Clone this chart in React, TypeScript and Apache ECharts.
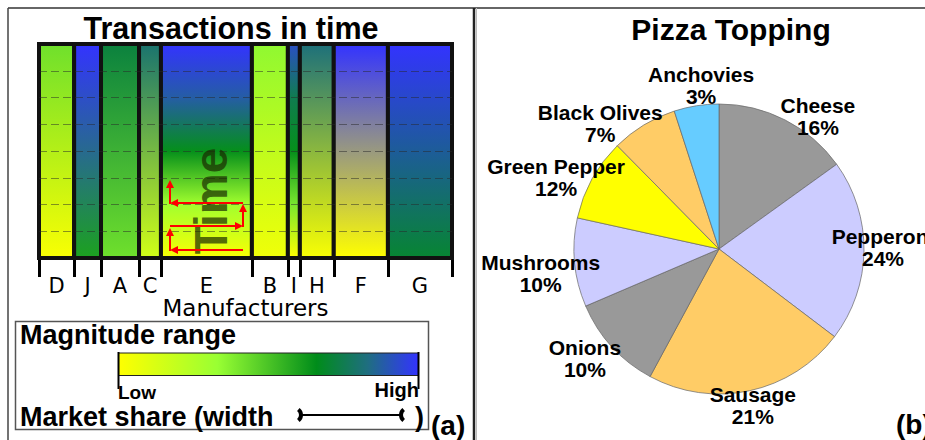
import React, { useEffect, useRef } from "react";
import * as echarts from "echarts";

// ---------- Left panel data: manufacturers (Marimekko of magnitude over time) ----------
const manufacturers = ["D", "J", "A", "C", "E", "B", "I", "H", "F", "G"];
// market share (bar width, %)
const marketShare = [8.5, 6.5, 9.2, 5.3, 22.0, 8.7, 2.9, 8.2, 13.1, 15.5];
// magnitude readings over time (0 = low, 1 = high), earliest first (bottom -> top)
const magnitudeD = [0.02, 0.42];
const magnitudeJ = [0.6, 1.0];
const magnitudeA = [0.42, 0.72];
const magnitudeC = [0.15, 0.8];
const magnitudeE = [0.02, 0.3, 0.65, 0.88, 1.0];
const magnitudeB = [0.05, 0.35];
const magnitudeI = [0.0, 0.4, 0.65, 0.75, 0.92];
const magnitudeH = [0.02, 0.82];
const magnitudeF = [0.0, 1.0];
const magnitudeG = [0.7, 1.0];
const magnitudes = [
  magnitudeD, magnitudeJ, magnitudeA, magnitudeC, magnitudeE,
  magnitudeB, magnitudeI, magnitudeH, magnitudeF, magnitudeG,
];
const timeSteps = 8;

// colour scale Low -> High
const scaleStops = [0, 0.33, 0.66, 0.83, 1];
const scaleColors = ["#ffff00", "#99ff33", "#008c1a", "#1f6e80", "#3333ff"];

// ---------- Right panel data: pizza toppings ----------
const toppings = ["Cheese", "Pepperoni", "Sausage", "Onions", "Mushrooms", "Green Pepper", "Black Olives", "Anchovies"];
const toppingShare = [15.1, 20.3, 22.6, 10.7, 9.9, 9.2, 7.4, 5.0];
const toppingLabelPct = [16, 24, 21, 10, 10, 12, 7, 3];
const toppingColors = ["#999999", "#ccccff", "#ffcc66", "#999999", "#ccccff", "#ffff00", "#ffcc66", "#66ccff"];

function hexToRgb(h: string) {
  const n = parseInt(h.slice(1), 16);
  return [(n >> 16) & 255, (n >> 8) & 255, n & 255];
}
function magColor(m: number) {
  let i = 0;
  while (i < scaleStops.length - 2 && m > scaleStops[i + 1]) i++;
  const t = Math.max(0, Math.min(1, (m - scaleStops[i]) / (scaleStops[i + 1] - scaleStops[i])));
  const a = hexToRgb(scaleColors[i]);
  const b = hexToRgb(scaleColors[i + 1]);
  const c = a.map((v, k) => Math.round(v + (b[k] - v) * t));
  return `rgb(${c[0]},${c[1]},${c[2]})`;
}

const SANS = "Liberation Sans, Arial, sans-serif";
const DEJAVU = "DejaVu Sans, Verdana, sans-serif";

export default function App() {
  const ref = useRef<HTMLDivElement>(null);
  useEffect(() => {
    if (!ref.current) return;
    const chart = echarts.init(ref.current, undefined, { renderer: "svg" });

    // cumulative boundaries for the Marimekko
    const bounds: number[] = [0];
    marketShare.forEach((s) => bounds.push(bounds[bounds.length - 1] + s));
    const total = bounds[bounds.length - 1];
    const mids = marketShare.map((s, i) => bounds[i] + s / 2);
    const barData = marketShare.map((s, i) => [bounds[i], bounds[i + 1], i]);

    // pie label placement
    const pieCx = 719, pieCy = 249, pieR = 145;
    const shareSum = toppingShare.reduce((a, b) => a + b, 0);
    const midAngles: number[] = [];
    let acc = 0;
    toppingShare.forEach((s) => { midAngles.push(((acc + s / 2) / shareSum) * 360); acc += s; });
    const labelAngleNudge = [9.7, -1.2, 0, 3.2, -2.5, -5.2, -12.1, 2.7];
    const labelDistance = [165, 164, 160, 173, 180, 178, 173, 164];

    const red = "#ff0000";
    const arrow = (x1: number, y1: number, x2: number, y2: number) => {
      const ang = Math.atan2(y2 - y1, x2 - x1);
      const L = 8, W = 4;
      const bx = x2 - L * Math.cos(ang), by = y2 - L * Math.sin(ang);
      const px = -Math.sin(ang) * W, py = Math.cos(ang) * W;
      return [
        { type: "line", z: 101, shape: { x1, y1, x2: bx, y2: by }, style: { stroke: red, lineWidth: 2 } },
        { type: "polygon", z: 101, shape: { points: [[x2, y2], [bx + px, by + py], [bx - px, by - py]] }, style: { fill: red } },
      ];
    };

    const legendGrad = new echarts.graphic.LinearGradient(0, 0, 1, 0,
      scaleStops.map((s, i) => ({ offset: s, color: scaleColors[i] })));

    const graphic: any[] = [
      // frames
      { type: "line", z: 100, shape: { x1: 8, y1: 8, x2: 925, y2: 8 }, style: { stroke: "#333", lineWidth: 1.5 } },
      { type: "line", z: 100, shape: { x1: 8, y1: 8, x2: 8, y2: 440 }, style: { stroke: "#444", lineWidth: 1.5 } },
      { type: "line", z: 100, shape: { x1: 474, y1: 8, x2: 474, y2: 440 }, style: { stroke: "#222", lineWidth: 2.5 } },
      { type: "line", z: 100, shape: { x1: 476.5, y1: 8, x2: 476.5, y2: 440 }, style: { stroke: "#bbb", lineWidth: 1 } },
      // titles
      { type: "text", z: 100, x: 231, y: 28, style: { text: "Transactions in time", font: `bold 30.5px ${SANS}`, fill: "#000", align: "center", verticalAlign: "middle" } },
      { type: "text", z: 100, x: 731, y: 29, style: { text: "Pizza Topping", font: `bold 30px ${SANS}`, fill: "#000", align: "center", verticalAlign: "middle" } },
      // Time watermark
      { type: "text", z: 100, x: 211, y: 201, rotation: Math.PI / 2, style: { text: "Time", font: `bold 46px ${SANS}`, fill: "rgba(25,40,0,0.7)", align: "center", verticalAlign: "middle" } },
      ...arrow(243, 250, 170, 250),
      ...arrow(170, 251, 170, 228),
      ...arrow(170, 226, 243, 226),
      ...arrow(243, 227, 243, 204),
      ...arrow(243, 203, 170, 203),
      ...arrow(170, 204, 170, 180),
      // legend box
      { type: "rect", z: 100, shape: { x: 15.5, y: 321.5, width: 413, height: 108 }, style: { fill: "none", stroke: "#555", lineWidth: 1.5 } },
      { type: "text", z: 100, x: 20, y: 335, style: { text: "Magnitude range", font: `bold 27px ${SANS}`, fill: "#000", verticalAlign: "middle" } },
      { type: "rect", z: 100, shape: { x: 118.5, y: 353, width: 300, height: 22.5 }, style: { fill: legendGrad, stroke: "#222", lineWidth: 1 } },
      { type: "line", z: 101, shape: { x1: 118.5, y1: 352, x2: 118.5, y2: 389 }, style: { stroke: "#000", lineWidth: 2 } },
      { type: "line", z: 101, shape: { x1: 418.5, y1: 352, x2: 418.5, y2: 389 }, style: { stroke: "#000", lineWidth: 2 } },
      { type: "text", z: 100, x: 118, y: 392, style: { text: "Low", font: `bold 19px ${SANS}`, fill: "#000", verticalAlign: "middle" } },
      { type: "text", z: 100, x: 419, y: 390, style: { text: "High", font: `bold 20px ${SANS}`, fill: "#000", align: "right", verticalAlign: "middle" } },
      { type: "text", z: 100, x: 20, y: 417, style: { text: "Market share (width", font: `bold 27px ${SANS}`, fill: "#000", verticalAlign: "middle" } },
      { type: "arc", z: 100, shape: { cx: 294, cy: 415, r: 7, startAngle: -0.9, endAngle: 0.9, clockwise: true }, style: { stroke: "#000", lineWidth: 4, fill: "none" } },
      { type: "line", z: 100, shape: { x1: 301, y1: 415, x2: 401, y2: 415 }, style: { stroke: "#000", lineWidth: 2 } },
      { type: "arc", z: 100, shape: { cx: 408, cy: 415, r: 7, startAngle: Math.PI - 0.9, endAngle: Math.PI + 0.9, clockwise: true }, style: { stroke: "#000", lineWidth: 4, fill: "none" } },
      { type: "text", z: 100, x: 415, y: 417, style: { text: ")", font: `bold 27px ${SANS}`, fill: "#000", verticalAlign: "middle" } },
      { type: "text", z: 100, x: 431, y: 425, style: { text: "(a)", font: `bold 28px ${SANS}`, fill: "#000", verticalAlign: "middle" } },
      { type: "text", z: 100, x: 896, y: 424, style: { text: "(b)", font: `bold 28px ${SANS}`, fill: "#000", verticalAlign: "middle" } },
    ];

    const option: any = {
      animation: false,
      backgroundColor: "#ffffff",
      grid: { left: 39, top: 44, width: 413, height: 214, containLabel: false },
      xAxis: {
        type: "value",
        min: 0,
        max: total,
        axisLine: { show: false },
        splitLine: { show: false },
        axisTick: { show: true, customValues: bounds, length: 19, lineStyle: { color: "#000", width: 3 } },
        axisLabel: {
          show: true,
          customValues: mids,
          margin: 17,
          fontFamily: DEJAVU,
          fontSize: 21,
          lineHeight: 21,
          color: "#000",
          formatter: (v: number) => {
            let best = 0;
            mids.forEach((m, i) => { if (Math.abs(m - v) < Math.abs(mids[best] - v)) best = i; });
            return manufacturers[best];
          },
        },
        name: "Manufacturers",
        nameLocation: "middle",
        nameGap: 38,
        nameTextStyle: { fontFamily: DEJAVU, fontSize: 23, lineHeight: 23, color: "#000" },
      },
      yAxis: {
        type: "value",
        min: 0,
        max: timeSteps,
        interval: 1,
        z: 5,
        axisLine: { show: false },
        axisTick: { show: false },
        axisLabel: { show: false },
        splitLine: {
          show: true,
          showMinLine: false,
          showMaxLine: false,
          lineStyle: { type: [8, 4], color: "rgba(40,40,40,0.5)", width: 1 },
        },
      },
      series: [
        {
          type: "custom",
          data: barData,
          encode: { x: [0, 1] },
          renderItem: (params: any, api: any) => {
            const i = api.value(2);
            const p0 = api.coord([api.value(0), 0]);
            const p1 = api.coord([api.value(1), timeSteps]);
            const samples = magnitudes[i];
            const stops = samples.map((m, k) => ({ offset: k / (samples.length - 1), color: magColor(m) }));
            return {
              type: "rect",
              shape: { x: p0[0], y: p1[1], width: p1[0] - p0[0], height: p0[1] - p1[1] },
              style: {
                fill: new echarts.graphic.LinearGradient(0, 1, 0, 0, stops),
                stroke: "#111",
                lineWidth: 4,
              },
            };
          },
        },
        {
          type: "pie",
          center: [pieCx, pieCy],
          radius: pieR,
          startAngle: 90,
          clockwise: true,
          avoidLabelOverlap: false,
          data: toppings.map((n, i) => ({ name: n, value: toppingShare[i], itemStyle: { color: toppingColors[i] } })),
          itemStyle: { borderColor: "#666", borderWidth: 0.7 },
          emphasis: { disabled: true },
          label: {
            show: true,
            position: "inside",
            formatter: (p: any) => `${p.name}\n${toppingLabelPct[p.dataIndex]}%`,
            fontFamily: SANS,
            fontWeight: "bold",
            fontSize: 21,
            lineHeight: 22,
            color: "#000",
            align: "center",
          },
          labelLine: { show: false },
          labelLayout: (p: any) => {
            const i = p.dataIndex;
            const a = ((midAngles[i] + labelAngleNudge[i]) * Math.PI) / 180;
            const d = labelDistance[i];
            return {
              x: pieCx + d * Math.sin(a),
              y: pieCy - d * Math.cos(a),
              align: "center",
              verticalAlign: "middle",
            };
          },
        },
      ],
      graphic,
    };
    chart.setOption(option);
    return () => chart.dispose();
  }, []);
  return <div ref={ref} style={{ position: "absolute", left: 0, top: 0, width: 925, height: 440 }} />;
}
